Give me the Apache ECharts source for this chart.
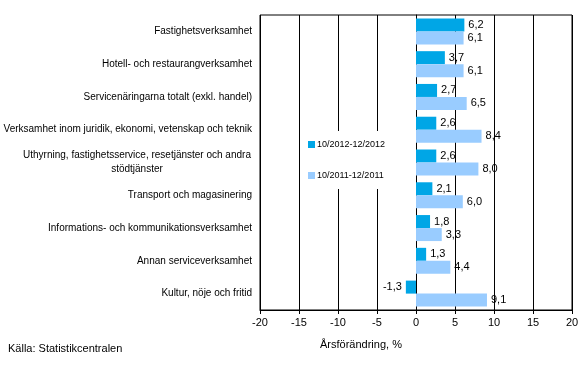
<!DOCTYPE html>
<html><head><meta charset="utf-8">
<script src="https://cdn.jsdelivr.net/npm/echarts@6/dist/echarts.min.js"></script>
<style>html,body{margin:0;padding:0;background:#fff}#c{width:588px;height:374px}</style>
</head><body><div id="c"></div>
<script>
var categories = [
  'Fastighetsverksamhet',
  'Hotell- och restaurangverksamhet',
  'Servicenäringarna totalt (exkl. handel)',
  'Verksamhet inom juridik, ekonomi, vetenskap och teknik',
  'Uthyrning, fastighetsservice, resetjänster och andra\nstödtjänster',
  'Transport och magasinering',
  'Informations- och kommunikationsverksamhet',
  'Annan serviceverksamhet',
  'Kultur, nöje och fritid'
];
var seriesNames = ['10/2012-12/2012', '10/2011-12/2011'];
var values2012 = [6.2, 3.7, 2.7, 2.6, 2.6, 2.1, 1.8, 1.3, -1.3];
var values2011 = [6.1, 6.1, 6.5, 8.4, 8.0, 6.0, 3.3, 4.4, 9.1];
var xTicks = [-20, -15, -10, -5, 0, 5, 10, 15, 20];

var FONT = 'Liberation Sans, Arial, sans-serif';
function mk(vals) {
  return vals.map(function (v) {
    return { value: v, label: { position: v < 0 ? 'left' : 'right' } };
  });
}
var chart = echarts.init(document.getElementById('c'), null, { renderer: 'canvas' });
chart.setOption({
  animation: false,
  backgroundColor: '#fff',
  grid: { left: 260, right: 16, top: 15, bottom: 64, show: true, borderColor: '#000', borderWidth: 1, backgroundColor: 'transparent' },
  xAxis: {
    type: 'value', min: xTicks[0], max: xTicks[xTicks.length - 1], interval: 5,
    axisLine: { show: true, lineStyle: { color: '#000', width: 1 } },
    axisTick: { show: true, length: 4, lineStyle: { color: '#000' } },
    axisLabel: { color: '#000', fontSize: 11, fontFamily: FONT, margin: 7 },
    splitLine: { show: true, lineStyle: { color: '#000', width: 1 } }
  },
  yAxis: {
    type: 'category', data: categories, inverse: true,
    axisLine: { show: true, lineStyle: { color: '#000' } },
    axisTick: { show: false },
    axisLabel: {
      color: '#000', fontSize: 10, fontFamily: FONT, margin: 8, lineHeight: 14,
      formatter: function (v) {
        if (v.indexOf('\n') >= 0) {
          var p = v.split('\n');
          return '{c|' + p[0] + '}\n{c|' + p[1] + '}';
        }
        return v;
      },
      rich: { c: { width: 230, align: 'center', fontSize: 10, fontFamily: FONT, color: '#000', lineHeight: 14 } }
    }
  },
  legend: {
    orient: 'vertical', left: 302, top: 131, padding: [9, 8, 9, 6],
    backgroundColor: '#fff', itemWidth: 7, itemHeight: 7, itemGap: 22,
    icon: 'rect',
    textStyle: { color: '#000', fontSize: 9, fontFamily: FONT, padding: [0, 0, 0, -3] },
    data: seriesNames
  },
  series: [
    {
      name: seriesNames[0], type: 'bar', data: mk(values2012), barWidth: 13, barGap: '0%',
      itemStyle: { color: '#00A6E6' },
      label: { show: true, color: '#000', fontSize: 11, fontFamily: FONT, distance: 4,
        formatter: function (p) { return p.value.toFixed(1).replace('.', ','); } }
    },
    {
      name: seriesNames[1], type: 'bar', data: mk(values2011), barWidth: 13, barGap: '0%',
      itemStyle: { color: '#99CCFF' },
      label: { show: true, color: '#000', fontSize: 11, fontFamily: FONT, distance: 4,
        formatter: function (p) { return p.value.toFixed(1).replace('.', ','); } }
    }
  ],
  graphic: [
    { type: 'text', left: 320, top: 339, style: { text: 'Årsförändring, %', fill: '#000', font: '11px ' + FONT } },
    { type: 'text', left: 8, top: 343, style: { text: 'Källa: Statistikcentralen', fill: '#000', font: '11px ' + FONT } }
  ]
});
</script></body></html>
